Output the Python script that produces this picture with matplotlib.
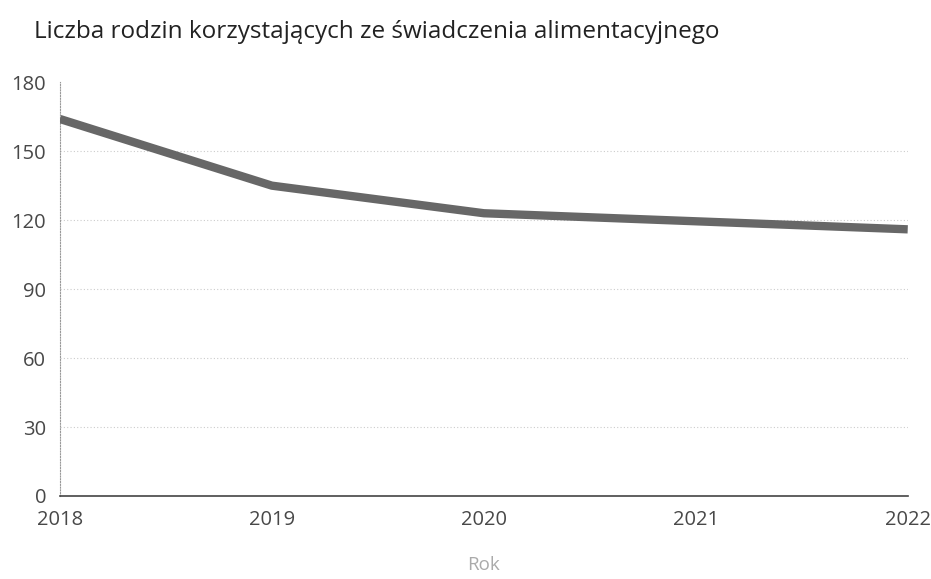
import matplotlib.pyplot as plt

years = [2018, 2019, 2020, 2021, 2022]
families = [164, 135, 123, 119.5, 116]
y_ticks = [0, 30, 60, 90, 120, 150, 180]

plt.rcParams['font.family'] = ['Open Sans', 'DejaVu Sans']

fig = plt.figure(figsize=(9.31, 5.79), dpi=100)
ax = fig.add_axes([0.0644, 0.1434, 0.9106, 0.7146])

ax.plot(years, families, color='#676767', linewidth=6, solid_capstyle='butt', zorder=3)

ax.set_xlim(2018, 2022)
ax.set_ylim(0, 180)
ax.set_xticks(years)
ax.set_yticks(y_ticks)

# dotted guide lines, none at the top value
for v in y_ticks[1:-1]:
    ax.axhline(v, color='#cccccc', linewidth=0.8, linestyle=(0, (1, 2)), zorder=1)

for side in ['top', 'right']:
    ax.spines[side].set_visible(False)
ax.spines['left'].set_linestyle((0, (1, 1.5)))
ax.spines['left'].set_color('#999999')
ax.spines['left'].set_linewidth(0.8)
ax.spines['bottom'].set_color('#444444')
ax.spines['bottom'].set_linewidth(1.2)

ax.tick_params(axis='both', length=0, labelsize=14.5, colors='#484848')
ax.tick_params(axis='y', pad=10)
ax.tick_params(axis='x', pad=10)

ax.set_xlabel('Rok', fontsize=13.5, color='#aaaaaa', labelpad=19)
fig.text(0.037, 0.945, 'Liczba rodzin korzystających ze świadczenia alimentacyjnego',
         fontsize=17.5, color='#222222', ha='left', va='center')

fig.savefig('out.png', dpi=100)
